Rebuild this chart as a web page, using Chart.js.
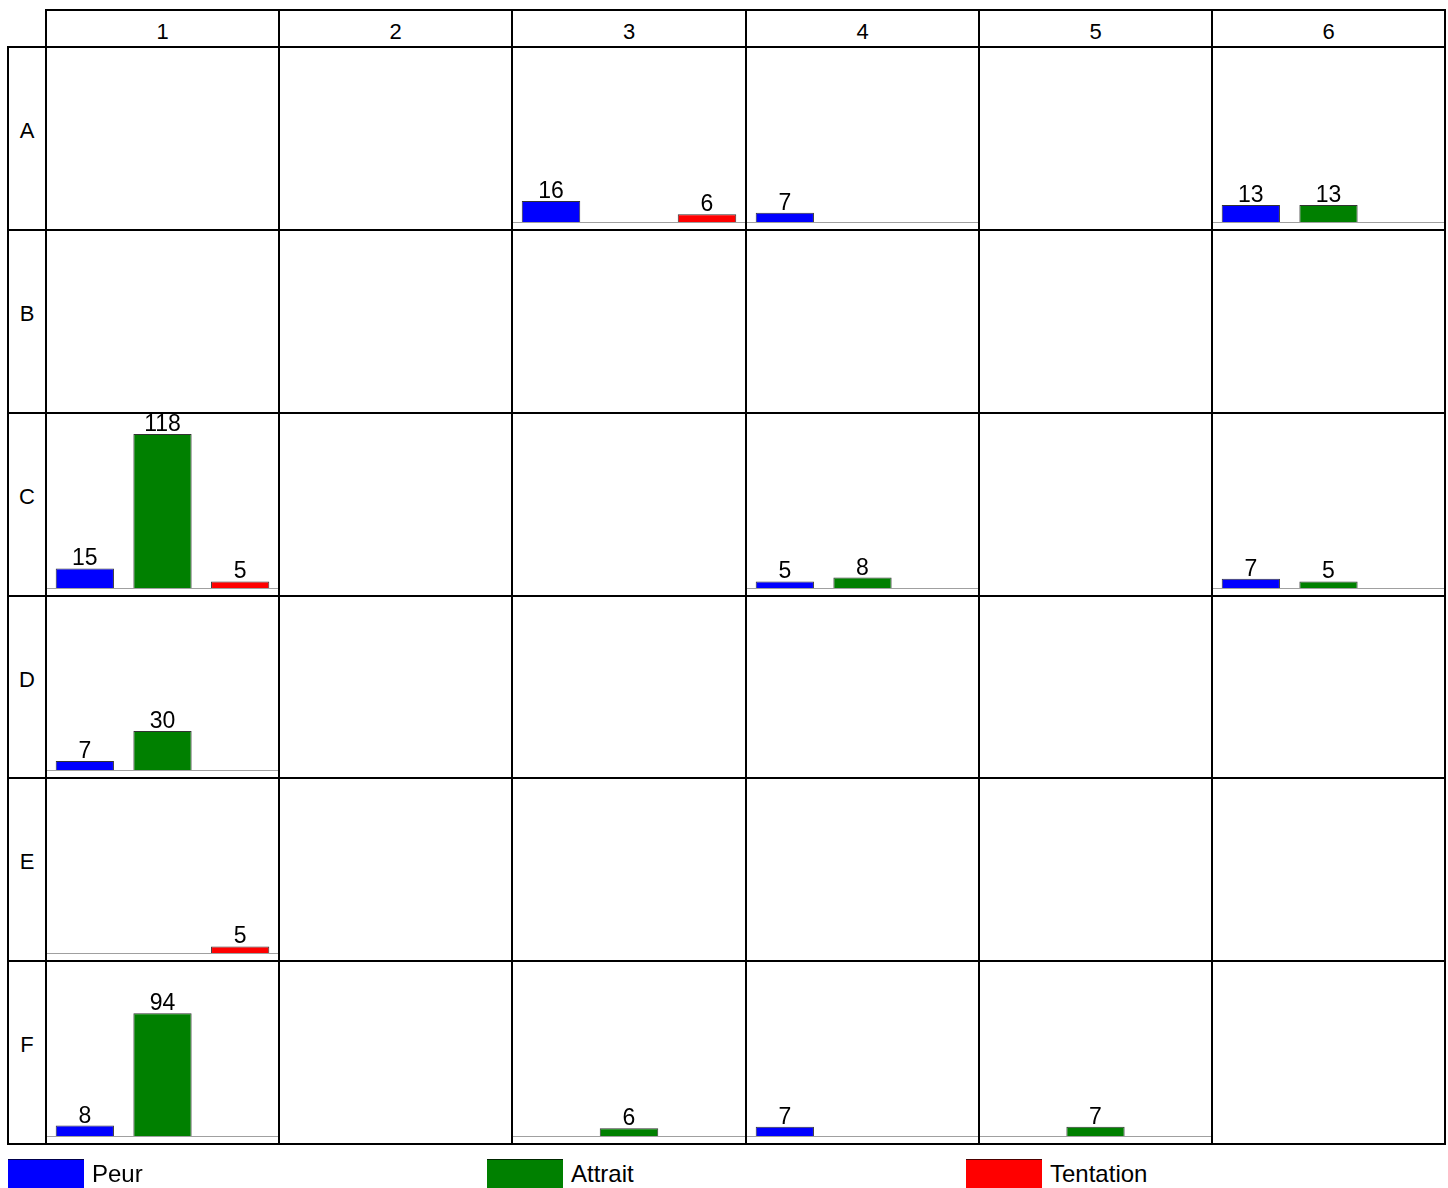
<!DOCTYPE html>
<html>
<head>
<meta charset="utf-8">
<script src="https://cdn.jsdelivr.net/npm/chart.js@4.4.1/dist/chart.umd.min.js"></script>
<style>
  html, body { margin: 0; padding: 0; background: #fff; overflow: hidden; }
  body { width: 1448px; height: 1188px; position: relative; font-family: "Liberation Sans", Arial, sans-serif; }
  .box { position: absolute; box-sizing: border-box; border: 2px solid #000; }
  .hdr { display: flex; align-items: center; justify-content: center; font-size: 22px; color: #000; }
  .colhdr { padding-top: 6px; }
  .rowhdr { padding-bottom: 15px; }
  .leg { position: absolute; top: 1159px; height: 34px; width: 76px; box-sizing: border-box; border-top: 1px solid rgba(0,0,0,0.7); }
  .legtxt { position: absolute; top: 1160px; font-size: 24px; line-height: 28px; color: #000; }
</style>
</head>
<body>
<script>
// grid categories
const rows = ['A', 'B', 'C', 'D', 'E', 'F'];
const cols = ['1', '2', '3', '4', '5', '6'];
const seriesNames = ['Peur', 'Attrait', 'Tentation'];

// values per row (A..F) and column (1..6), null = nothing drawn
const peur = [
  [null, null, 16, 7, null, 13],
  [null, null, null, null, null, null],
  [15, null, null, 5, null, 7],
  [7, null, null, null, null, null],
  [null, null, null, null, null, null],
  [8, null, null, 7, null, null]
];
const attrait = [
  [null, null, null, null, null, 13],
  [null, null, null, null, null, null],
  [118, null, null, 8, null, 5],
  [30, null, null, null, null, null],
  [null, null, null, null, null, null],
  [94, null, 6, null, 7, null]
];
const tentation = [
  [null, null, 6, null, null, null],
  [null, null, null, null, null, null],
  [5, null, null, null, null, null],
  [null, null, null, null, null, null],
  [5, null, null, null, null, null],
  [null, null, null, null, null, null]
];

const colors = ['#0000ff', '#008000', '#ff0000'];

// layout
const gridLeft = 46, gridTop = 47, gridRight = 1445, gridBottom = 1144;
const hdrTop = 10, rowHdrLeft = 8;
const xs = [], ys = [];
for (let j = 0; j <= cols.length; j++) xs.push(Math.round(gridLeft + j * (gridRight - gridLeft) / cols.length));
for (let i = 0; i <= rows.length; i++) ys.push(Math.round(gridTop + i * (gridBottom - gridTop) / rows.length));

// box between pixel boundaries (borders of neighbours overlap)
function addBox(x1, y1, x2, y2, cls, text) {
  const d = document.createElement('div');
  d.className = 'box ' + (cls || '');
  d.style.left = (x1 - 1) + 'px';
  d.style.top = (y1 - 1) + 'px';
  d.style.width = (x2 - x1 + 2) + 'px';
  d.style.height = (y2 - y1 + 2) + 'px';
  if (text !== undefined) d.textContent = text;
  document.body.appendChild(d);
  return d;
}

// baseline + value labels
const cellPlugin = {
  id: 'cellPlugin',
  afterDatasetsDraw(chart) {
    const ctx = chart.ctx;
    const y0 = chart.scales.y.getPixelForValue(0);
    ctx.save();
    ctx.strokeStyle = '#a0a0a0';
    ctx.lineWidth = 1;
    ctx.beginPath();
    ctx.moveTo(0, Math.round(y0) + 0.5);
    ctx.lineTo(chart.width, Math.round(y0) + 0.5);
    ctx.stroke();
    ctx.fillStyle = '#000';
    ctx.font = '23px "Liberation Sans", Arial, sans-serif';
    ctx.textAlign = 'center';
    ctx.textBaseline = 'alphabetic';
    const meta = chart.getDatasetMeta(0);
    const data = chart.data.datasets[0].data;
    meta.data.forEach((bar, i) => {
      if (data[i] === null || data[i] === undefined) return;
      ctx.fillText(String(data[i]), bar.x, bar.y - 3);
    });
    ctx.restore();
  }
};

// column headers
cols.forEach((c, j) => addBox(xs[j], hdrTop, xs[j + 1], ys[0], 'hdr colhdr', c));
// row headers
rows.forEach((r, i) => addBox(rowHdrLeft, ys[i], xs[0], ys[i + 1], 'hdr rowhdr', r));

// cells
rows.forEach((r, i) => {
  cols.forEach((c, j) => {
    const vals = [peur[i][j], attrait[i][j], tentation[i][j]];
    if (vals.every(v => v === null)) {
      addBox(xs[j], ys[i], xs[j + 1], ys[i + 1], 'cell');
      return;
    }
    const cv = document.createElement('canvas');
    const w = xs[j + 1] - xs[j], h = ys[i + 1] - ys[i];
    cv.width = w;
    cv.height = h;
    cv.style.width = w + 'px';
    cv.style.height = h + 'px';
    cv.style.position = 'absolute';
    cv.style.left = xs[j] + 'px';
    cv.style.top = ys[i] + 'px';
    document.body.appendChild(cv);
    new Chart(cv, {
      type: 'bar',
      data: {
        labels: seriesNames,
        datasets: [{
          data: vals,
          backgroundColor: colors,
          borderColor: 'rgba(0,0,0,0.8)',
          borderWidth: 1,
          borderSkipped: 'bottom',
          categoryPercentage: 1,
          barPercentage: 0.75
        }]
      },
      options: {
        responsive: false,
        animation: false,
        devicePixelRatio: 1,
        layout: { padding: { top: 0, bottom: 8, left: 0, right: 0 } },
        plugins: { legend: { display: false }, tooltip: { enabled: false } },
        scales: {
          x: { display: false },
          y: { display: false, min: 0, max: 134 }
        }
      },
      plugins: [cellPlugin]
    });
    // border on top of the canvas
    addBox(xs[j], ys[i], xs[j + 1], ys[i + 1], 'cell');
  });
});

// legend
const legX = [8, 487, 966];
seriesNames.forEach((s, k) => {
  const sw = document.createElement('div');
  sw.className = 'leg';
  sw.style.left = legX[k] + 'px';
  sw.style.background = colors[k];
  document.body.appendChild(sw);
  const t = document.createElement('div');
  t.className = 'legtxt';
  t.style.left = (legX[k] + 84) + 'px';
  t.textContent = s;
  document.body.appendChild(t);
});
</script>
</body>
</html>
